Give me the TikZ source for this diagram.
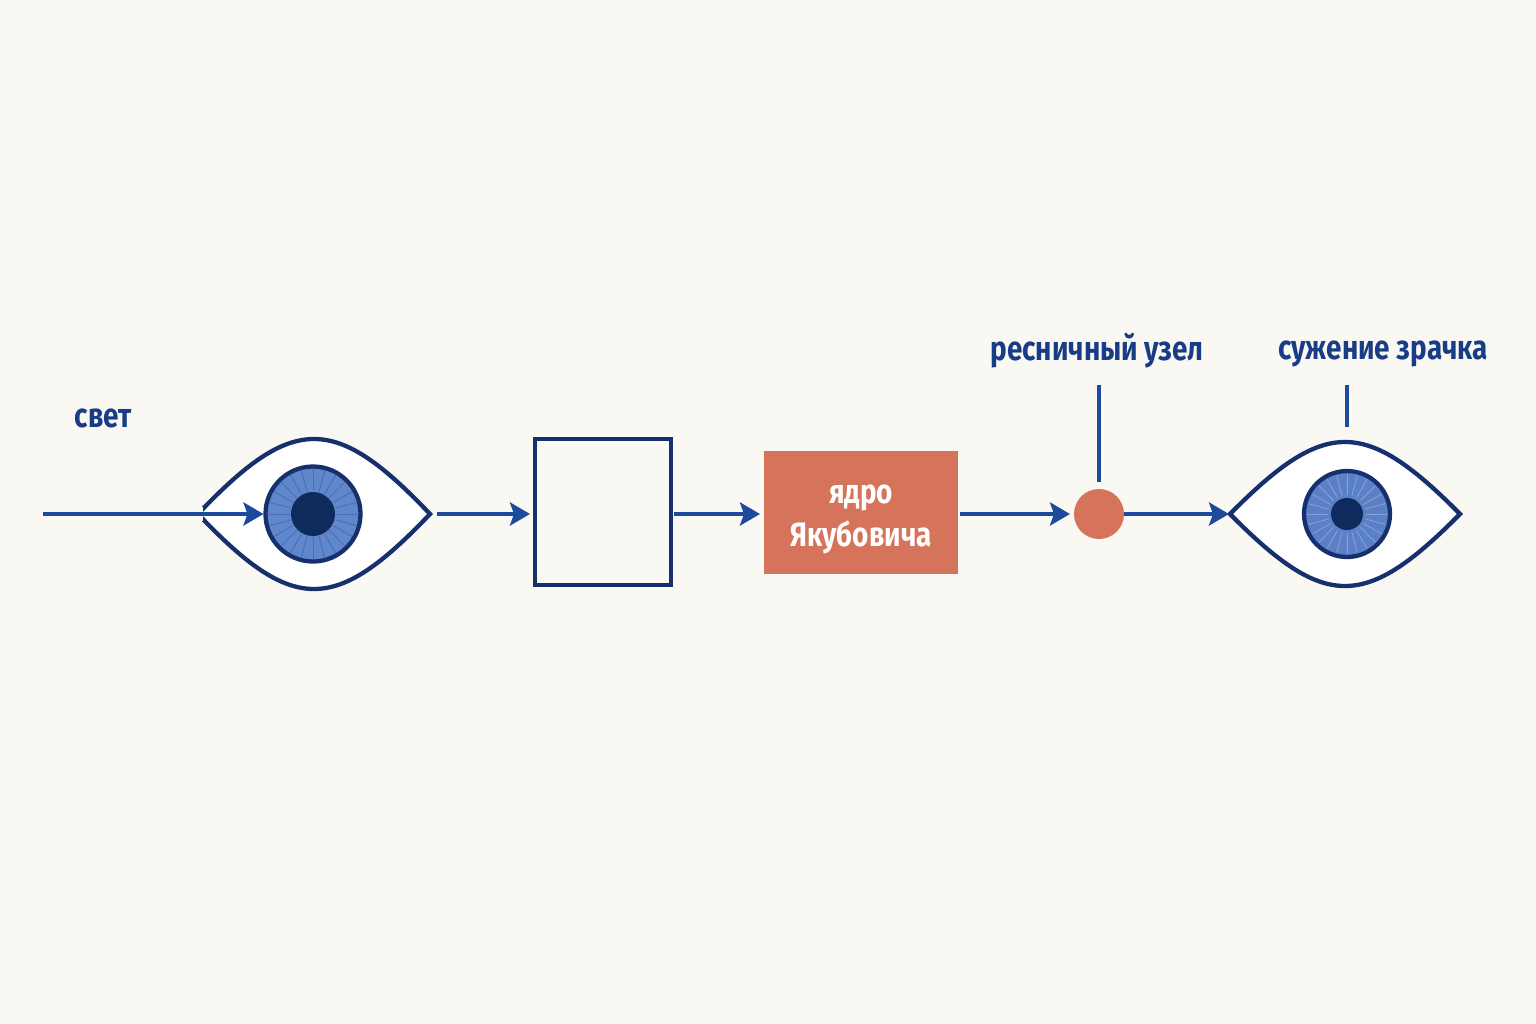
\documentclass[tikz,border=0pt]{standalone}
\usepackage{fontspec}
\setmainfont{Fira Sans}
\newfontfamily\labfont{Fira Sans}[FakeStretch=0.82]
\usetikzlibrary{arrows.meta}
\definecolor{bg}{HTML}{FAF8F3}
\definecolor{lineblue}{HTML}{1D4A9C}
\definecolor{txtblue}{HTML}{183C86}
\definecolor{navy}{HTML}{15306C}
\definecolor{irisL}{HTML}{6187CB}
\definecolor{rayL}{HTML}{4A6FBA}
\definecolor{irisR}{HTML}{5B80C6}
\definecolor{rayR}{HTML}{84A3DA}
\definecolor{pupilc}{HTML}{0F2A5C}
\definecolor{orng}{HTML}{D5735B}
\begin{document}
\begin{tikzpicture}[x=1pt,y=-1pt,
  flow/.style={draw=lineblue, line width=4.5pt, -{Stealth[length=20pt,width=23pt,inset=4pt]}},
  conn/.style={draw=lineblue, line width=4.5pt},
  eyeline/.style={draw=navy, line width=4.3pt, fill=white, line join=miter},
  iris/.style={circle, draw=navy, line width=4.3pt, inner sep=0pt, outer sep=0pt},
  pupil/.style={circle, fill=pupilc, inner sep=0pt, outer sep=0pt},
  lab/.style={text=txtblue, font=\labfont\bfseries\fontsize{34}{36}\selectfont, inner sep=0pt, anchor=base},
  emptybox/.style={draw=navy, line width=4.3pt, fill=none, inner sep=0pt, outer sep=0pt, minimum width=136pt, minimum height=146pt},
  nucleus/.style={fill=orng, inner sep=0pt, outer sep=0pt, minimum width=194pt, minimum height=123pt},
  nuctext/.style={text=white, inner sep=0pt, align=center, font=\labfont\bfseries\fontsize{34}{43}\selectfont},
  knotstyle/.style={circle, fill=orng, inner sep=0pt, outer sep=0pt, minimum size=50pt}
]
\useasboundingbox (0,0) rectangle (1536,1024);
\fill[bg] (0,0) rectangle (1536,1024);

% ---------- left eye ----------
\coordinate (eyeLl) at (198,514);
\coordinate (eyeLr) at (430,514);
\path[eyeline] (eyeLl) .. controls (293,414) and (335,414) .. (eyeLr)
  .. controls (335,614) and (293,614) .. cycle;
\node[iris, fill=irisL, minimum size=95pt] (irisLn) at (313,514) {};
\foreach \a in {0,15,...,345}
  \draw[rayL, line width=1pt] (irisLn.center) ++(\a:23) -- ++(\a:22);
\node[pupil, minimum size=44pt] (pupilL) at (irisLn.center) {};
% gap at the left corner
\fill[bg] (190,507) rectangle (203,521);

% ---------- input ----------
\coordinate (start) at (43,514);
\node[lab] (svet) at (103,427) {свет};
\draw[flow, shorten >=2pt] (start) -- (irisLn.west);

% ---------- empty box ----------
\node[emptybox] (sq) at (603,512) {};
\draw[flow, shorten <=7pt, shorten >=5pt] (eyeLr) -- (sq.west |- eyeLr);

% ---------- nucleus ----------
\node[nucleus] (yadro) at (861,512.5) {};
\node[nuctext] (yadroText) at (861,519) {ядро\\Якубовича};
\draw[flow, shorten <=3pt, shorten >=4pt] (sq.east |- start) -- (yadro.west |- start);

% ---------- ciliary ganglion ----------
\node[knotstyle] (knot) at (1099,514) {};
\draw[flow, shorten <=2pt, shorten >=4pt] (yadro.east |- start) -- (knot.west);
\node[lab] (lab1) at (1097,360) {ресничный узел};
\coordinate (k1) at (1099,385);
\draw[conn, shorten >=7pt] (k1) -- (knot.north);

% ---------- right eye ----------
\coordinate (eyeRl) at (1230,514);
\coordinate (eyeRr) at (1460,514);
\path[eyeline] (eyeRl) .. controls (1325,418) and (1365,418) .. (eyeRr)
  .. controls (1365,610) and (1325,610) .. cycle;
\node[iris, fill=irisR, minimum size=86pt] (irisRn) at (1347,514) {};
\foreach \a in {0,15,...,345}
  \draw[rayR, line width=0.8pt] (irisRn.center) ++(\a:19) -- ++(\a:21);
\node[pupil, minimum size=32pt] (pupilR) at (irisRn.center) {};
\draw[flow, shorten >=1pt] (knot.east) -- (eyeRl);

\node[lab] (lab2) at (1383,359) {сужение зрачка};
\coordinate (k2) at (1347,385);
\coordinate (k2e) at (1347,427);
\draw[conn] (k2) -- (k2e);
\end{tikzpicture}
\end{document}
